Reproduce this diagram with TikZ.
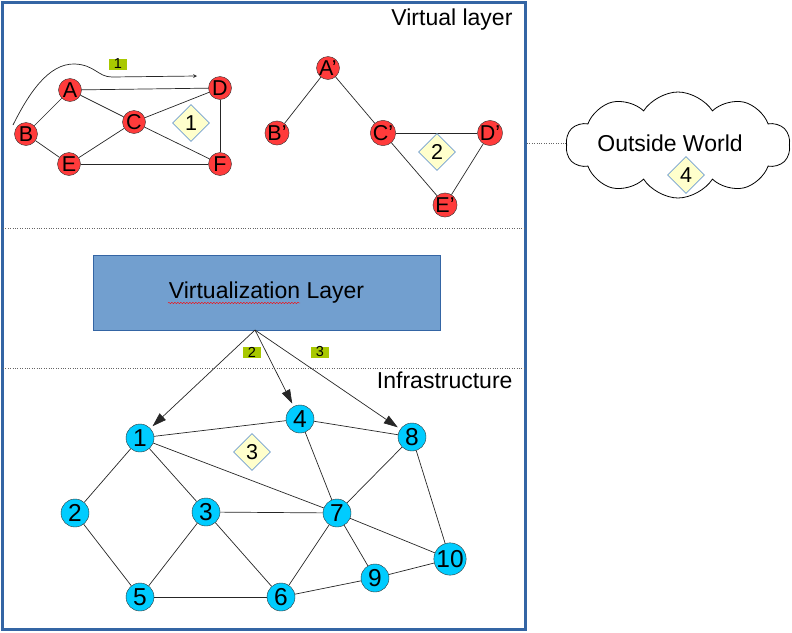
\documentclass[tikz,border=0pt]{standalone}
\usepackage{fontspec}
\setmainfont{Liberation Sans}
\usetikzlibrary{shapes.geometric,shapes.symbols,arrows.meta,decorations.pathmorphing}

\definecolor{frameblue}{HTML}{3465A4}
\definecolor{boxblue}{HTML}{729FCF}
\definecolor{nodered}{HTML}{FF3B3B}
\definecolor{nodecyan}{HTML}{00CCFF}
\definecolor{tagcol}{HTML}{A8C800}
\definecolor{hintcol}{HTML}{FFFFCC}

\begin{document}
\begin{tikzpicture}[x=1pt,y=-1pt,>=stealth,
	virt/.style={circle,draw=black!80,fill=nodered,minimum size=23pt,inner sep=0pt,font=\fontsize{21.5}{21.5}\selectfont},
	infra/.style={circle,draw=black!80,fill=nodecyan,minimum size=28pt,inner sep=0pt,font=\fontsize{24.5}{24.5}\selectfont},
	hint/.style={diamond,draw=boxblue,line width=0.8pt,fill=hintcol,minimum size=37pt,inner sep=0pt,font=\fontsize{21.5}{21.5}\selectfont},
	tag/.style={fill=tagcol,minimum width=18pt,minimum height=11pt,inner sep=0pt,font=\fontsize{14.5}{14.5}\selectfont},
	layername/.style={anchor=east,font=\fontsize{23}{23}\selectfont},
	link/.style={line width=0.7pt,black!85}]
	\useasboundingbox (0,0) rectangle (792,632);

	%frame and layers
	\draw[frameblue,line width=3pt] (2,2) rectangle (525,629);
	\draw[dotted,black!60] (3,228) -- (524,228);
	\draw[dotted,black!60] (3,368) -- (524,368);
	\node[layername] (vlab) at (516,20) {Virtual layer};
	\node[layername] (ilab) at (516,380) {Infrastructure};

	%Virtual layer--first network
	\foreach \n/\x/\y in {A/70/90,B/26/134,C/134/122,D/220/88,E/69/164,F/220/164}
	\node[virt] (\n) at (\x,\y) {\n};
	\foreach \a/\b in {A/D,A/B,A/C,B/E,E/C,C/D,C/F,D/F,E/F}
	\draw[link] (\a) -- (\b);
	\node[hint] (h1) at (191,123) {1};
	\node[tag] (t1) at (118,64) {1};
	\coordinate (c1) at (13,125);
	\coordinate (c2) at (197,76);
	\draw[->,link] (c1) .. controls (28,95) and (48,63) .. (75,64) .. controls (95,65) and (98,77) .. (112,77) -- (c2);

	%Virtual layer--second network
	\foreach \n/\x/\y in {A/328/68,B/277/133,C/383/133,D/490/133,E/445/205}
	\node[virt] (\n2) at (\x,\y) {\n'};
	\foreach \a/\b in {A2/B2,A2/C2,C2/D2,C2/E2,D2/E2}
	\draw[link] (\a) -- (\b);
	\node[hint] (h2) at (437,152) {2};

	%outside world
	\node[cloud,draw,thick,cloud puffs=10,cloud puff arc=115,aspect=2.1,minimum width=224pt,minimum height=106pt] (cloud) at (678,145) {};
	\node[font=\fontsize{23}{23}\selectfont] (ow) at (670,143) {Outside World};
	\node[hint] (h4) at (686,175) {4};
	\coordinate (fe) at (527,143);
	\draw[dotted,black!60] (fe) -- (fe -| cloud.west);

	%virtualization layer
	\node[draw=frameblue,fill=boxblue,minimum width=347pt,minimum height=75pt,font=\fontsize{23}{23}\selectfont] (vl) at (266.5,292.5) {Virtualization Layer};
	\draw[red,decorate,decoration={snake,amplitude=0.7pt,segment length=3pt}] (168,303) -- (300,303);

	%Infrastructure
	\foreach \n/\x/\y in {1/140/438,2/75/513,3/206/512,4/300/419,5/140/597,6/281/597,7/337/513,8/412/437,9/375/578,10/450/559}
	\node[infra] (n\n) at (\x,\y) {\n};
	\foreach \a/\b in {1/4,4/8,1/2,1/3,1/7,4/7,8/7,8/10,2/5,3/5,3/7,3/6,5/6,7/6,7/9,7/10,6/9,9/10}
	\draw[link] (n\a) -- (n\b);
	\node[hint] (h3) at (252,452) {3};

	%Virtualization--Infrastructure
	\coordinate (vs) at (255,330);
	\foreach \t in {1,4,8}
	\draw[link,-{Triangle[length=14pt,width=9pt]},shorten >=3pt] (vs) -- (n\t);
	\node[tag] (t2) at (252,352) {2};
	\node[tag] (t3) at (320,352) {3};
\end{tikzpicture}
\end{document}
